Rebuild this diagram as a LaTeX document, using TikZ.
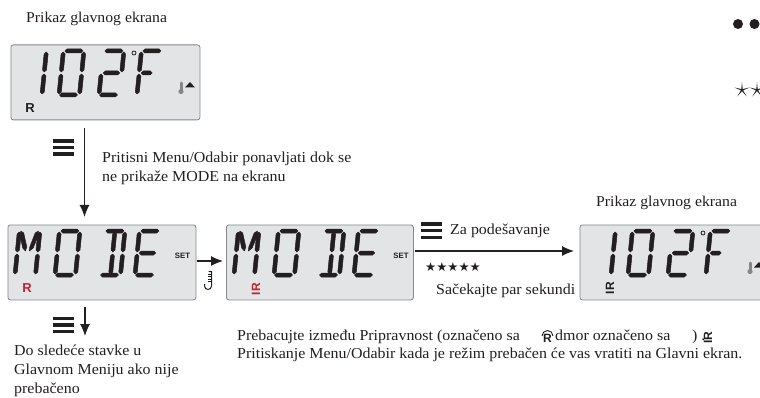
\documentclass[tikz,border=0pt]{standalone}
\usepackage{fontspec}
\setmainfont[FakeStretch=1.05]{Liberation Serif}
\newfontfamily\lab{Liberation Sans}
\newfontfamily\sym{DejaVu Sans}
\definecolor{lcd}{HTML}{E3E4E5}
\definecolor{edge}{HTML}{85878A}
\definecolor{ink}{HTML}{231F20}
\definecolor{redm}{HTML}{C8202F}
\usetikzlibrary{arrows.meta,shapes.geometric}
\tikzset{
  screen/.style={draw=edge,fill=lcd,line width=.8pt,rounded corners=2.5pt,inner sep=0pt,minimum height=75pt,anchor=north west},
  seg/.style={fill=ink,draw=ink,line width=.5pt,line join=round},
  txt/.style={anchor=base west,inner sep=0pt,text=ink,font=\fontsize{15.2}{18}\selectfont},
  flow/.style={draw=ink,line width=1.1pt,-{Latex[length=12pt,width=10pt]}},
  bars/.style={draw=ink,line width=3.4pt},
  rmark/.style={inner sep=0pt,font=\lab\bfseries\fontsize{13}{14}\selectfont},
  setlab/.style={inner sep=0pt,text=ink,font=\lab\bfseries\fontsize{7.8}{9}\selectfont},
  starmark/.style={star,star points=5,star point ratio=7,fill=ink,inner sep=0pt,minimum size=16pt},
}
% horizontal segment: x1, x2, y ; vertical segment: x, y1, y2 (tapered bars)
\newcommand\hs[3]{\path[seg] (#1,#3)--(#1+2,#3+2)--(#2-2,#3+2)--(#2,#3)--(#2-2,#3-2)--(#1+2,#3-2)--cycle;}
\newcommand\vs[3]{\path[seg] (#1,#2)--(#1+2,#2+2)--(#1+2,#3-2)--(#1,#3)--(#1-2,#3-2)--(#1-2,#2+2)--cycle;}
\newcommand\sega{\hs{1.5}{19.5}{44}}
\newcommand\segb{\vs{20.5}{23}{43}}
\newcommand\segc{\vs{20.5}{1}{21}}
\newcommand\segd{\hs{.5}{18.5}{0}}
\newcommand\sege{\vs{0}{1}{21}}
\newcommand\segf{\vs{0}{23}{43}}
\newcommand\segg{\hs{2}{18.5}{22}}
\newcommand\segG{\hs{2}{13}{22}}
\newcommand\segm{\path[seg] (1.5,44)--(4.5,42)--(9,28)--(8,24)--(5,27)--(1,40)--cycle;}
\newcommand\segp{\path[seg] (19,44)--(16,42)--(12,28)--(12,24)--(15.5,27)--(19.5,40)--cycle;}
\newcommand\segn{\vs{10.5}{23}{43}}
\newcommand\sego{\vs{10.5}{1}{21}}
\newcommand\segary[3]{\begin{scope}[shift={(#1,#2)},xslant=.1,y=1pt]\foreach \s in {#3}{\csname seg\s\endcsname}\end{scope}}
\newcommand\thermo[2]{\begin{scope}[shift={(#1,#2)}]
  \draw[edge,line width=3pt,line cap=round] (0,-2)--(0,5);
  \fill[edge] (0,6.5) circle (2.6pt);
  \fill[ink] (4,2.5)--(14,2.5)--(9,-3)--cycle;
\end{scope}}
\begin{document}
\begin{tikzpicture}[x=1pt,y=-1pt]
\useasboundingbox (0,0) rectangle (760,398);
\clip (0,0) rectangle (760,398);
% screens
\node[screen,minimum width=189pt] (scr1) at (10.5,44.5) {};
\node[screen,minimum width=188pt] (scr2) at (7.5,224.5) {};
\node[screen,minimum width=187pt] (scr3) at (226,224.5) {};
\node[screen,minimum width=189pt] (scr4) at (579.5,224.5) {};
% 102F left
\segary{21.5}{95}{b,c}
\segary{59}{95}{a,b,c,d,e,f}
\segary{99}{95}{a,b,g,e,d}
\segary{137}{95}{a,f,e,G}
\draw[ink,line width=.8pt] (134,53) circle (2pt);
\thermo{181}{85}
\node[rmark,text=ink] (ra) at (30,108) {R};
% MODE 1
\segary{15}{275}{f,e,b,c,m,p}
\segary{55}{275}{a,b,c,d,e,f}
\segary{100}{275}{a,b,c,d,n,o}
\segary{135}{275}{a,f,e,g,d}
\node[setlab] (seta) at (182.5,256) {SET};
\node[rmark,text=redm] (rb) at (27,288) {R};
% MODE 2
\segary{234}{275}{f,e,b,c,m,p}
\segary{274}{275}{a,b,c,d,e,f}
\segary{319}{275}{a,b,c,d,n,o}
\segary{354}{275}{a,f,e,g,d}
\node[setlab] (setb) at (401,256) {SET};
\node[rmark,text=redm,rotate=90,font=\lab\bfseries\fontsize{12}{13}\selectfont] (rc) at (256,289) {IR};
% 102F right
\segary{590.5}{275}{b,c}
\segary{628}{275}{a,b,c,d,e,f}
\segary{668}{275}{a,b,g,e,d}
\segary{706}{275}{a,f,e,G}
\draw[ink,line width=.8pt] (703,233) circle (2pt);
\thermo{750}{265}
\node[rmark,text=ink,rotate=90,font=\lab\bfseries\fontsize{12}{13}\selectfont] (rd) at (610,288) {IR};
% connectors
\coordinate (ca) at (84.5,128);
\coordinate (cb) at (84.5,217);
\coordinate (cc) at (85,307);
\coordinate (cd) at (85,336);
\coordinate (ce) at (415,251);
\coordinate (cf) at (574,251);
\coordinate (cg) at (197,261);
\coordinate (ch) at (223,261);
\draw[flow] (ca)--(cb);
\draw[flow] (cg)--(ch);
\draw[flow] (ce)--(cf);
\draw[flow] (cc)--(cd);
% menu icons
\foreach \ax/\ay in {52.5/141,52.5/318.5,421/224}{
  \draw[bars] (\ax,\ay)--++(21,0);
  \draw[bars] (\ax,\ay+6.6)--++(21,0);
  \draw[bars] (\ax,\ay+13.2)--++(21,0);
}
% hook icon
\draw[ink,line width=1pt] (208.5,271.5)--(211.5,271.5)--(211.5,286)
  arc[start angle=0,end angle=-180,radius=3.5pt]--(204.5,284);
\foreach \ty in {274,276.5,279,281.5}{\draw[ink,line width=.8pt] (211.5,\ty)--(208,\ty);}
% texts
\node[txt] (t1) at (26,23) {\fontsize{15}{18}\selectfont Prikaz glavnog ekrana};
\node[txt] (t2) at (102,163) {Pritisni Menu/Odabir ponavljati dok se};
\node[txt] (t3) at (102,182) {ne prikaže MODE na ekranu};
\node[txt] (t4) at (596,207) {\fontsize{15}{18}\selectfont Prikaz glavnog ekrana};
\node[txt] (t5) at (450,234) {Za podešavanje};
\node[inner sep=0pt,text=ink,font=\sym\fontsize{12.4}{13}\selectfont] (st) at (453,267) {★★★★★};
\node[txt] (t6) at (436,294) {Sačekajte par sekundi};
\node[txt] (t7) at (14,355) {Do sledeće stavke u};
\node[txt] (t8) at (14,374) {Glavnom Meniju ako nije};
\node[txt] (t9) at (14,393) {prebačeno};
\node[txt] (t10) at (237,340) {Prebacujte između Pripravnost (označeno sa};
\node[rmark,text=ink,font=\lab\bfseries\fontsize{12}{13}\selectfont] (re) at (547.5,338) {R};
\draw[ink,line width=.9pt] (542,336) arc[start angle=180,end angle=0,radius=5.5pt];
\node[txt] (t11) at (555,340) {dmor označeno sa};
\node[txt] (t12) at (692,340) {) .};
\node[rmark,text=ink,rotate=90,font=\lab\bfseries\fontsize{12}{13}\selectfont] (rf) at (708,337.5) {IR};
\node[txt] (t13) at (237,358) {Pritiskanje Menu/Odabir kada je režim prebačen će vas vratiti na Glavni ekran.};
% top right marks
\fill[ink] (738,24) circle (5pt) (754.5,24) circle (5pt);
\node[starmark] (sa) at (742,90) {};
\node[starmark] (sb) at (757,90) {};
\end{tikzpicture}
\end{document}
